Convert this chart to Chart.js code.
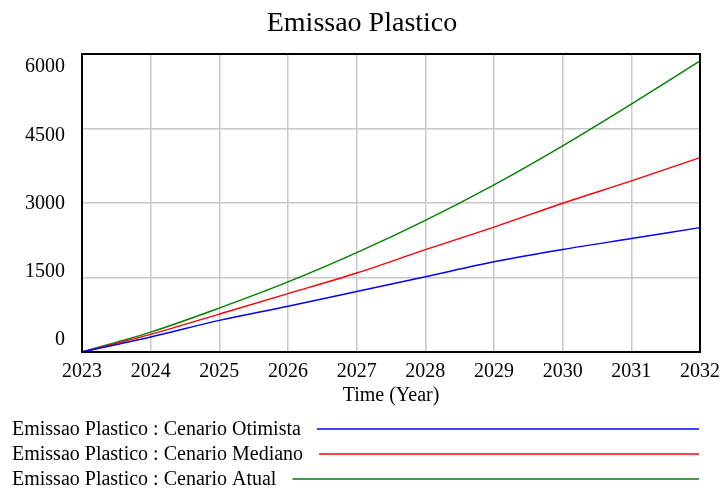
<!DOCTYPE html>
<html>
<head>
<meta charset="utf-8">
<script src="https://cdn.jsdelivr.net/npm/chart.js@4"></script>
<style>
  html, body { margin: 0; padding: 0; background: #fff; }
  #wrap { width: 724px; height: 490px; }
</style>
</head>
<body>
<div id="wrap"><canvas id="grafico" width="724" height="490"></canvas></div>
<script>
// anos e cenarios
const anos = ["2023", "2024", "2025", "2026", "2027", "2028", "2029", "2030", "2031", "2032"];
const cenarioOtimista = [0, 302, 636, 920, 1219, 1515, 1816, 2065, 2285, 2505];
const cenarioMediano = [0, 355, 764, 1175, 1590, 2060, 2514, 2995, 3445, 3915];
const cenarioAtual = [0, 400, 885, 1410, 2000, 2650, 3365, 4150, 4990, 5860];
const ticksY = [0, 1500, 3000, 4500, 6000];

const fonte = "'Liberation Serif', 'Times New Roman', serif";

// rotulos do eixo Y espalhados dentro da area (estilo Vensim) + moldura preta
const molduraPlugin = {
  id: "moldura",
  afterDatasetsDraw(chart) {
    const { ctx, chartArea: a, scales } = chart;
    ctx.save();
    ctx.strokeStyle = "#000";
    ctx.lineWidth = 2;
    ctx.strokeRect(a.left, a.top, a.right - a.left, a.bottom - a.top);

    const ticks = scales.y.ticks;
    const topo = a.top + 13, base = a.bottom - 12;
    ctx.fillStyle = "#000";
    ctx.font = "20px " + fonte;
    ctx.textAlign = "right";
    ctx.textBaseline = "middle";
    ticks.forEach((t, i) => {
      const y = base - i * (base - topo) / (ticks.length - 1);
      ctx.fillText(String(t.value), a.left - 17, y);
    });
    ctx.restore();
  },
  afterDraw(chart) {
    // legenda: nome da serie seguido da linha ate a borda direita
    const { ctx, chartArea: a } = chart;
    ctx.save();
    ctx.font = "20px " + fonte;
    ctx.textBaseline = "middle";
    ctx.textAlign = "left";
    chart.data.datasets.forEach((ds, i) => {
      const y = 430 + i * 25;
      ctx.fillStyle = "#000";
      ctx.fillText(ds.label, 12, y);
      const w = ctx.measureText(ds.label).width;
      ctx.strokeStyle = ds.borderColor;
      ctx.lineWidth = 1.4;
      ctx.beginPath();
      ctx.moveTo(12 + w + 16, y - 1);
      ctx.lineTo(a.right - 1, y - 1);
      ctx.stroke();
    });
    ctx.restore();
  }
};

const ctx = document.getElementById("grafico").getContext("2d");

new Chart(ctx, {
  type: "line",
  data: {
    labels: anos,
    datasets: [
      {
        label: "Emissao Plastico : Cenario Otimista",
        data: cenarioOtimista,
        borderColor: "#0000ff",
        borderWidth: 1.4,
        pointRadius: 0,
        cubicInterpolationMode: "monotone"
      },
      {
        label: "Emissao Plastico : Cenario Mediano",
        data: cenarioMediano,
        borderColor: "#ff0000",
        borderWidth: 1.4,
        pointRadius: 0,
        cubicInterpolationMode: "monotone"
      },
      {
        label: "Emissao Plastico : Cenario Atual",
        data: cenarioAtual,
        borderColor: "#008000",
        borderWidth: 1.4,
        pointRadius: 0,
        cubicInterpolationMode: "monotone"
      }
    ]
  },
  options: {
    responsive: false,
    animation: false,
    layout: { padding: 0 },
    plugins: {
      legend: { display: false },
      tooltip: { enabled: false },
      title: {
        display: true,
        text: "Emissao Plastico",
        color: "#000",
        font: { family: fonte, size: 28, weight: "normal" },
        padding: { top: 7.2, bottom: 13.2 }
      }
    },
    scales: {
      x: {
        type: "category",
        offset: false,
        grid: { color: "#c8c8c8", lineWidth: 1.5, drawTicks: false },
        border: { display: false },
        ticks: {
          color: "#000",
          font: { family: fonte, size: 20 },
          padding: 8,
          maxRotation: 0,
          autoSkip: false
        },
        title: {
          display: true,
          text: "Time (Year)",
          color: "#000",
          font: { family: fonte, size: 20 },
          padding: { top: 0, bottom: 82 }
        },
        afterFit(scale) {
          scale.height = 138;
          scale.paddingLeft = 0;
          scale.paddingRight = 24;
        }
      },
      y: {
        min: ticksY[0],
        max: ticksY[ticksY.length - 1],
        afterBuildTicks(scale) { scale.ticks = ticksY.map(v => ({ value: v })); },
        grid: { color: "#c8c8c8", lineWidth: 1.5, drawTicks: false },
        border: { display: false },
        ticks: { display: false },
        afterFit(scale) { scale.width = 82; }
      }
    }
  },
  plugins: [molduraPlugin]
});
</script>
</body>
</html>
